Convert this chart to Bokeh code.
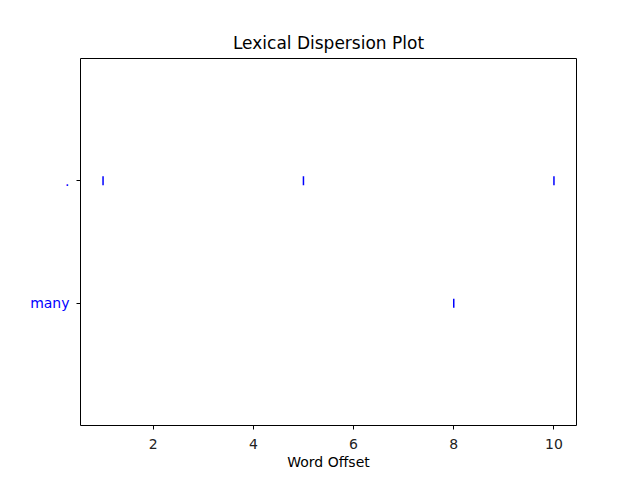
import math
from bokeh.plotting import figure
from bokeh.models import Range1d, FixedTicker, ColumnDataSource
from bokeh.embed import file_html
from bokeh.resources import INLINE

words = ["many", "."]
dot_offsets = [1, 5, 10]
many_offsets = [8]
x_ticks = [2, 4, 6, 8, 10]

xs = many_offsets + dot_offsets
ys = [0] * len(many_offsets) + [1] * len(dot_offsets)
src = ColumnDataSource(dict(x=xs, y=ys))

p = figure(width=624, height=472, output_backend="svg", toolbar_location=None,
           x_range=Range1d(0.55, 10.45), y_range=Range1d(-1, 2),
           min_border_left=80, min_border_right=48, min_border_top=58, min_border_bottom=45)
p.title.text = "Lexical Dispersion Plot"
p.title.align = "center"
p.title.text_font = "DejaVu Sans"
p.title.text_font_size = "17px"
p.title.text_font_style = "normal"
p.title.text_color = "black"
p.title.offset = 0
p.title.standoff = 11

p.scatter("x", "y", source=src, marker="dash", angle=math.pi / 2, size=9,
          line_color="blue", line_width=1.5)

p.xgrid.visible = False
p.ygrid.visible = False
p.outline_line_color = "black"
p.outline_line_alpha = 1
p.outline_line_width = 1
p.background_fill_color = "white"

for ax in (p.xaxis[0], p.yaxis[0]):
    ax.axis_line_color = None
    ax.major_tick_in = 0
    ax.major_tick_out = 4
    ax.minor_tick_line_color = None
    ax.major_tick_line_color = "black"
    ax.major_label_text_font = "DejaVu Sans"
    ax.major_label_text_font_size = "14px"
    ax.major_label_standoff = 7

p.xaxis.ticker = FixedTicker(ticks=x_ticks)
p.xaxis.major_label_standoff = 9
p.xaxis.major_label_text_color = "#222222"
p.xaxis.axis_label = "Word Offset"
p.xaxis.axis_label_text_font = "DejaVu Sans"
p.xaxis.axis_label_text_font_size = "14px"
p.xaxis.axis_label_text_font_style = "normal"
p.xaxis.axis_label_text_color = "black"
p.xaxis.axis_label_standoff = 2

p.yaxis.ticker = FixedTicker(ticks=[0, 1])
p.yaxis.major_label_overrides = {i: w for i, w in enumerate(words)}
p.yaxis.major_label_text_color = "blue"

open("out.html", "w").write(file_html(p, INLINE))
